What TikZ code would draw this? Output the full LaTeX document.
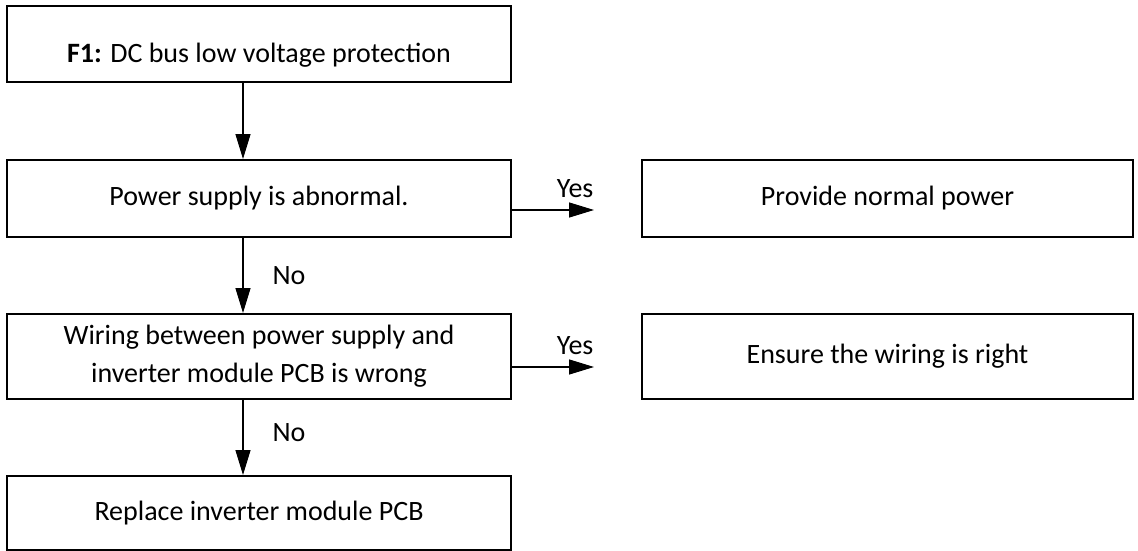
\documentclass[tikz,border=0pt]{standalone}
\usepackage{fontspec}
\setmainfont{Carlito}
\usetikzlibrary{arrows.meta}
\begin{document}
\begin{tikzpicture}[x=1pt,y=-1pt,
  box/.style={draw, line width=2pt, rectangle, align=center, inner sep=0pt,
    font=\fontsize{28}{38}\selectfont},
  lbox/.style={box, minimum width=504pt, minimum height=76pt},
  rbox/.style={box, minimum width=491pt, minimum height=77pt},
  arr/.style={line width=1.3pt, -{Triangle[length=25pt,width=15pt]}},
  lab/.style={font=\fontsize{28}{30}\selectfont, inner sep=0pt}]
\useasboundingbox (0,0) rectangle (1138,551);
\node[lbox] (b1) at (259,44) {};
\node[lab] (t0) at (259,55) {\textbf{F1:} DC bus low voltage protection};
\node[lbox, minimum height=77pt] (b2) at (259,198.5) {Power supply is abnormal.};
\node[rbox] (r1) at (887.5,198.5) {Provide normal power};
\node[lbox, minimum height=85pt] (b3) at (259,356.5) {Wiring between power supply and\\inverter module PCB is wrong};
\node[rbox, minimum height=85pt] (r2) at (887.5,356.5) {Ensure the wiring is right};
\node[lbox, minimum height=74pt] (b4) at (259,513) {Replace inverter module PCB};
\coordinate (y1) at (594,210);
\coordinate (y2) at (594,367);
\draw[arr] ([xshift=-16pt]b1.south) -- ([xshift=-16pt]b2.north);
\draw[arr] ([xshift=-16pt]b2.south) -- node[lab, right=29pt, pos=0.5] (n1) {No} ([xshift=-16pt]b3.north);
\draw[arr] ([xshift=-16pt]b3.south) -- node[lab, right=29pt, pos=0.43] (n2) {No} ([xshift=-16pt]b4.north);
\draw[arr] (b2.east |- y1) -- node[lab, above=12pt, pos=0.77] (t1) {Yes} (y1);
\draw[arr] (b3.east |- y2) -- node[lab, above=12pt, pos=0.77] (t2) {Yes} (y2);
\end{tikzpicture}
\end{document}
